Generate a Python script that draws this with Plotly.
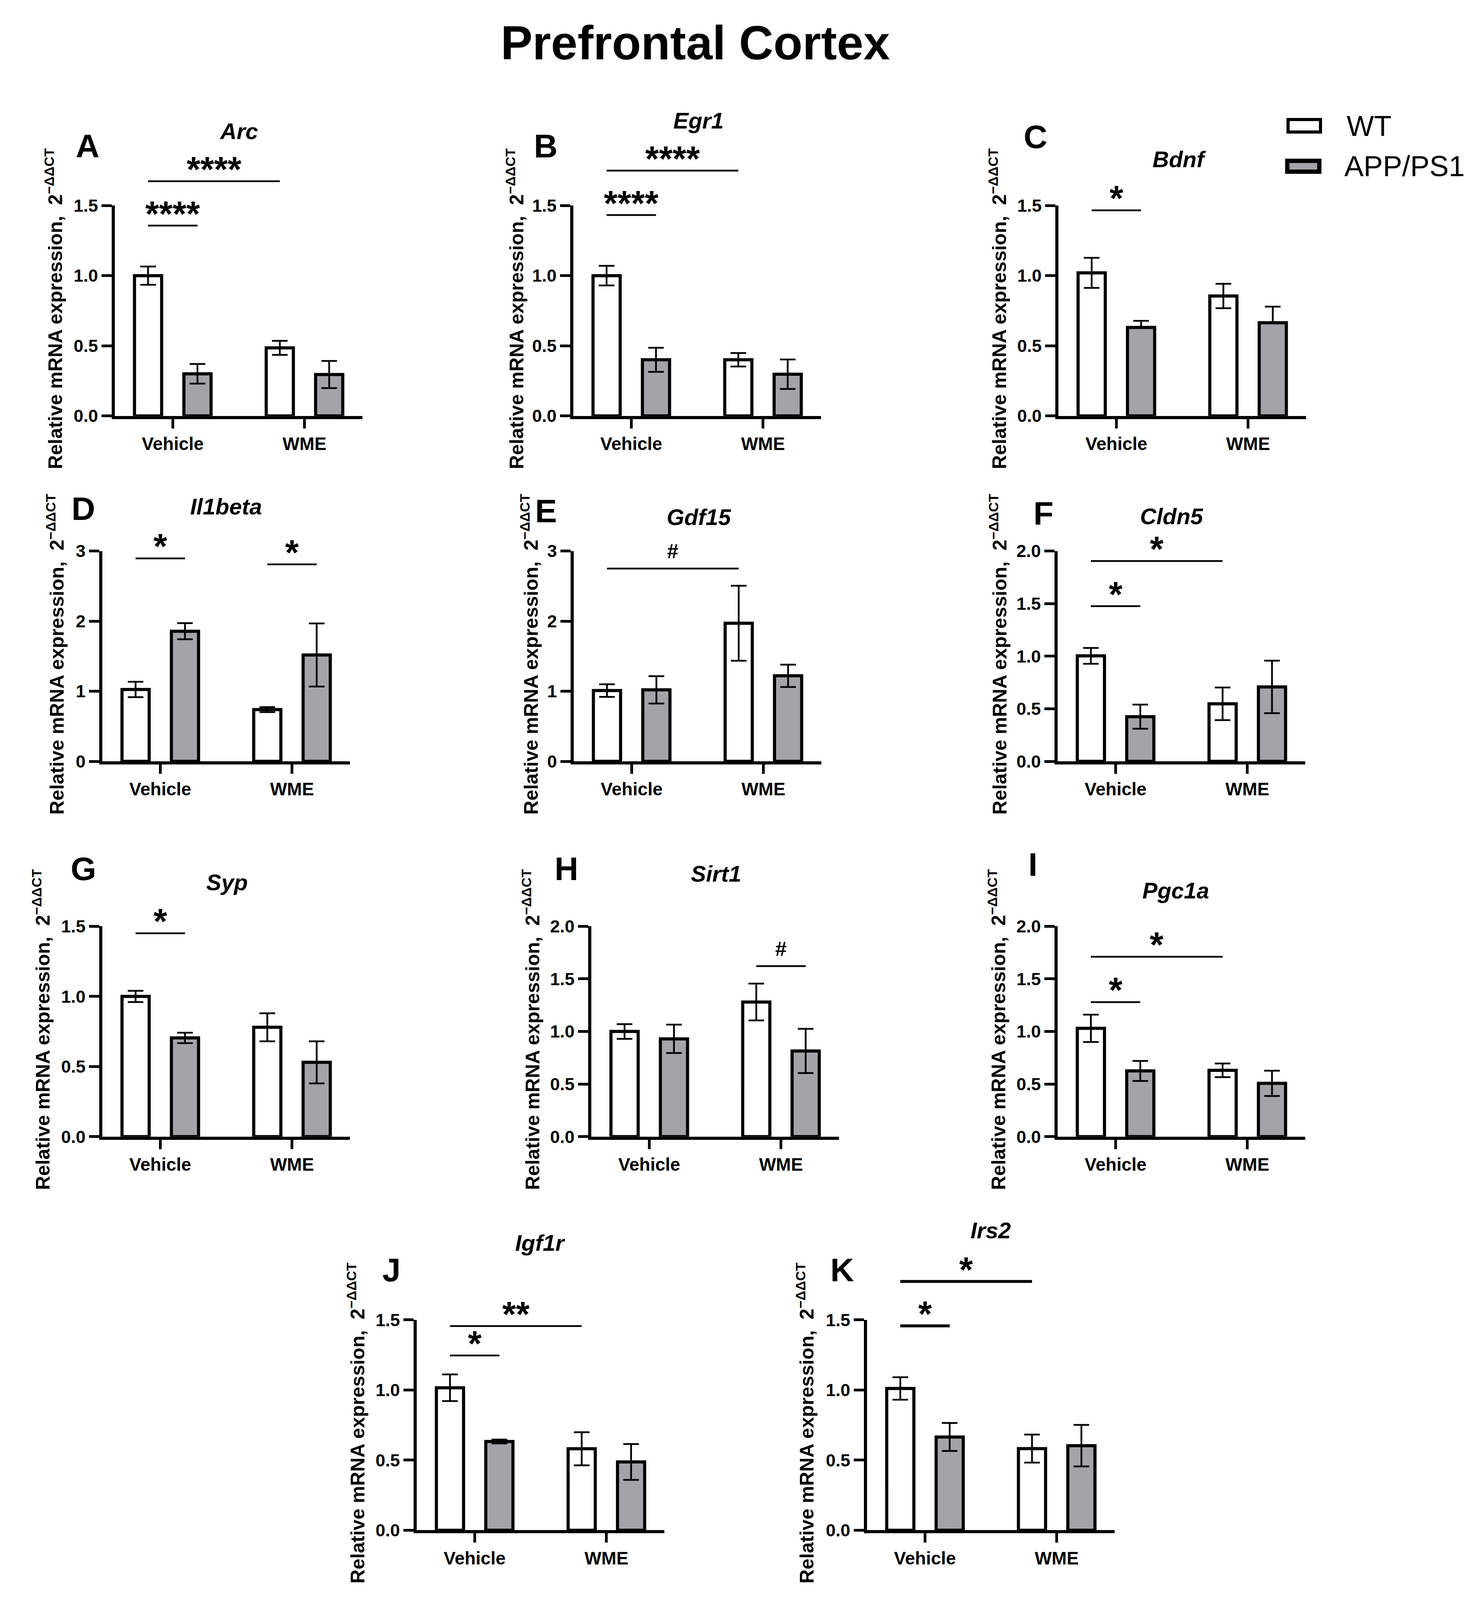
import plotly.graph_objects as go

# ---- data ---------------------------------------------------------------
GENES = ["Arc", "Egr1", "Bdnf", "Il1beta", "Gdf15", "Cldn5",
         "Syp", "Sirt1", "Pgc1a", "Igf1r", "Irs2"]
LETTERS = ["A", "B", "C", "D", "E", "F", "G", "H", "I", "J", "K"]
TREATMENTS = ["Vehicle", "WME"]
GROUPS = ["WT", "APP/PS1"]

WT_VEHICLE = [1.00, 1.00, 1.02, 1.025, 1.01, 1.003, 1.00, 1.00, 1.03, 1.016, 1.011]
WT_VEHICLE_SEM = [0.065, 0.07, 0.107, 0.11, 0.09, 0.075, 0.04, 0.07, 0.13, 0.095, 0.08]
WT_WME = [0.485, 0.40, 0.855, 0.738, 1.97, 0.547, 0.78, 1.28, 0.631, 0.581, 0.582]
WT_WME_SEM = [0.05, 0.048, 0.087, 0.035, 0.535, 0.155, 0.10, 0.175, 0.065, 0.118, 0.10]
APP_VEHICLE = [0.30, 0.40, 0.631, 1.856, 1.02, 0.425, 0.704, 0.93, 0.625, 0.633, 0.665]
APP_VEHICLE_SEM = [0.07, 0.086, 0.047, 0.115, 0.195, 0.115, 0.037, 0.135, 0.095, 0.014, 0.10]
APP_WME = [0.295, 0.297, 0.664, 1.517, 1.22, 0.708, 0.53, 0.815, 0.507, 0.487, 0.603]
APP_WME_SEM = [0.097, 0.105, 0.115, 0.45, 0.16, 0.25, 0.15, 0.21, 0.12, 0.128, 0.148]
# genes where the APP/PS1 bars only show the upper half of the error bar
APP_UPPER_ONLY = ["Bdnf"]

Y_MAX = [1.5, 1.5, 1.5, 3, 3, 2.0, 1.5, 2.0, 2.0, 1.5, 1.5]
Y_STEP = [0.5, 0.5, 0.5, 1, 1, 0.5, 0.5, 0.5, 0.5, 0.5, 0.5]

# significance bars: (from bar, to bar, height, label)
# bars: 0 = WT Vehicle, 1 = APP/PS1 Vehicle, 2 = WT WME, 3 = APP/PS1 WME
SIGNIF = [
    [(0, 1, 1.357, "****"), (0, 2, 1.673, "****")],
    [(0, 1, 1.432, "****"), (0, 2, 1.749, "****")],
    [(0, 1, 1.466, "*")],
    [(0, 1, 2.895, "*"), (2, 3, 2.81, "*")],
    [(0, 2, 2.75, "#")],
    [(0, 1, 1.476, "*"), (0, 2, 1.905, "*")],
    [(0, 1, 1.45, "*")],
    [(2, 3, 1.622, "#")],
    [(0, 1, 1.279, "*"), (0, 2, 1.711, "*")],
    [(0, 1, 1.246, "*"), (0, 2, 1.456, "**")],
    [(0, 1, 1.457, "*"), (0, 2, 1.774, "*")],
]

# ---- layout (designed on the 3792 x 4665 page, stored as paper fractions) --
W, H = 3792, 4665
FONT = "Liberation Sans, Arial, sans-serif"
GRAY = "#a3a3a8"
BARGAP = 0.25
BARGROUPGAP = 0.45
PLOT_W, PLOT_H = 634, 621
EXT = 1.45  # extra head room (invisible axis) for the significance bars

AXIS_X = [294, 1468, 2710, 262, 1469, 2708, 262, 1514, 2708, 1067, 2220]
ROW = [0, 0, 0, 1, 1, 1, 2, 2, 2, 3, 3]
ROW_ZERO = [1199, 2219, 3327, 4489]
TITLE_POS = [(611, 358), (1788, 327), (3020, 441), (579, 1466), (1789, 1498),
             (3000, 1495), (581, 2576), (1833, 2550), (3010, 2600),
             (1383, 3640), (2536, 3603)]
LETTER_POS = [(224, 402), (1397, 403), (2651, 375), (213, 1473), (1398, 1480),
              (2671, 1486), (213, 2536), (1450, 2536), (2644, 2523),
              (1002, 3721), (2156, 3721)]
YLABEL_DX = [-156, -149, -155, -120, -113, -152, -156, -154, -155, -155, -158]
BRACKET_W = [4.5] * 10 + [7.5]


def px(x):
    return x / W


def py(y):
    return 1 - y / H


def bar_x(b):
    side = -1 if b % 2 == 0 else 1
    return b // 2 + side * (1 - BARGAP) / 4


fig = go.Figure()
layout = {}
annotations = []

for p, gene in enumerate(GENES):
    xa, ya, ye = f"x{p + 1}", f"y{p + 1}", f"y{p + 12}"
    upper_only = gene in APP_UPPER_ONLY

    wt = [WT_VEHICLE[p], WT_WME[p]]
    wt_sem = [WT_VEHICLE_SEM[p], WT_WME_SEM[p]]
    app = [APP_VEHICLE[p], APP_WME[p]]
    app_sem = [APP_VEHICLE_SEM[p], APP_WME_SEM[p]]

    fig.add_trace(go.Bar(
        x=[0, 1], y=wt, name=GROUPS[0], xaxis=xa, yaxis=ya,
        marker=dict(color="white", line=dict(color="black", width=8)),
        error_y=dict(type="data", array=wt_sem, color="black",
                     thickness=4.5, width=20),
        showlegend=False,
    ))
    fig.add_trace(go.Bar(
        x=[0, 1], y=app, name=GROUPS[1], xaxis=xa, yaxis=ya,
        marker=dict(color=GRAY, line=dict(color="black", width=8)),
        error_y=dict(type="data", array=app_sem,
                     arrayminus=[0, 0] if upper_only else app_sem,
                     color="black", thickness=4.5, width=20),
        showlegend=False,
    ))

    x0 = AXIS_X[p]
    zero = ROW_ZERO[ROW[p]]
    n_ticks = int(round(Y_MAX[p] / Y_STEP[p])) + 1
    tickvals = [i * Y_STEP[p] for i in range(n_ticks)]

    layout[f"xaxis{p + 1}"] = dict(
        domain=[px(x0), px(x0 + PLOT_W)], anchor=ya, range=[-0.44, 1.44],
        tickvals=[0, 1], ticktext=TREATMENTS,
        showline=True, linewidth=8, linecolor="black",
        ticks="outside", ticklen=24, tickwidth=7, tickcolor="black",
        showgrid=False, zeroline=False, ticklabelstandoff=0,
        tickfont=dict(family=FONT, size=46, color="black", weight="bold"),
    )
    layout[f"yaxis{p + 1}"] = dict(
        domain=[py(zero), py(zero - PLOT_H)], anchor=xa, range=[0, Y_MAX[p]],
        tickvals=tickvals, tickformat=".1f" if Y_STEP[p] < 1 else "d",
        showline=True, linewidth=8, linecolor="black",
        ticks="outside", ticklen=26, tickwidth=7, tickcolor="black",
        showgrid=False, zeroline=False,
        tickfont=dict(family=FONT, size=45, color="black", weight="bold"),
    )
    layout[f"yaxis{p + 12}"] = dict(
        domain=[py(zero), py(zero - PLOT_H * EXT)], anchor=xa,
        range=[0, Y_MAX[p] * EXT], visible=False, showgrid=False, zeroline=False,
    )

    # significance bars and their labels
    for b0, b1, h, label in SIGNIF[p]:
        fig.add_trace(go.Scatter(
            x=[bar_x(b0), bar_x(b1)], y=[h, h], xaxis=xa, yaxis=ye,
            mode="lines", line=dict(color="black", width=BRACKET_W[p]),
            hoverinfo="skip", showlegend=False,
        ))
        is_hash = label == "#"
        annotations.append(dict(
            x=(bar_x(b0) + bar_x(b1)) / 2, y=h, xref=xa, yref=ye,
            text=label, showarrow=False, xanchor="center", yanchor="middle",
            yshift=44 if is_hash else 30,
            font=dict(family=FONT, size=52 if is_hash else 90, color="black",
                      weight="bold"),
        ))

    # gene title, panel letter, y-axis label
    tx, ty = TITLE_POS[p]
    annotations.append(dict(
        x=px(tx), y=py(ty), xref="paper", yref="paper", text=gene,
        showarrow=False, xanchor="center", yanchor="middle",
        font=dict(family=FONT, size=58, color="black", weight="bold",
                  style="italic"),
    ))
    lx, ly = LETTER_POS[p]
    annotations.append(dict(
        x=px(lx), y=py(ly), xref="paper", yref="paper", text=LETTERS[p],
        showarrow=False, xanchor="center", yanchor="middle",
        font=dict(family=FONT, size=84, color="black", weight="bold"),
    ))
    annotations.append(dict(
        x=px(x0 + YLABEL_DX[p]), y=py(zero - PLOT_H / 2 - 5),
        xref="paper", yref="paper", textangle=-90,
        text="Relative mRNA expression,  2<sup>\u2212\u0394\u0394CT</sup>",
        showarrow=False, xanchor="center", yanchor="middle",
        font=dict(family=FONT, size=50, color="black", weight="bold"),
    ))

# main title
annotations.append(dict(
    x=px(1780), y=py(98), xref="paper", yref="paper",
    text="Prefrontal Cortex", showarrow=False,
    xanchor="center", yanchor="middle",
    font=dict(family=FONT, size=122, color="black", weight="bold"),
))

# legend drawn by hand (large boxes like the original)
shapes = [
    dict(type="rect", xref="paper", yref="paper",
         x0=px(3298), x1=px(3381), y0=py(361), y1=py(324),
         line=dict(color="black", width=8), fillcolor="white"),
    dict(type="rect", xref="paper", yref="paper",
         x0=px(3296), x1=px(3378), y0=py(478), y1=py(446),
         line=dict(color="black", width=11), fillcolor=GRAY),
]
for name, (lx, ly) in zip(GROUPS, [(3446, 343), (3440, 462)]):
    annotations.append(dict(
        x=px(lx), y=py(ly), xref="paper", yref="paper", text=name,
        showarrow=False, xanchor="left", yanchor="middle",
        font=dict(family=FONT, size=74, color="black"),
    ))

# size follows the browser window so the whole page stays in view
fig.update_layout(
    autosize=True,
    margin=dict(l=0, r=0, t=0, b=0),
    paper_bgcolor="white", plot_bgcolor="rgba(0,0,0,0)",
    barmode="group", bargap=BARGAP, bargroupgap=BARGROUPGAP,
    showlegend=False,
    annotations=annotations, shapes=shapes,
    **layout,
)

fig.write_html(
    "out.html",
    config={"displayModeBar": False, "responsive": True},
    default_width="100vw",
    default_height="100vh",
    post_script=(
        "document.body.style.margin='0';"
        "document.body.style.overflow='hidden';"
        "Plotly.Plots.resize(document.getElementById('{plot_id}'));"
    ),
)
